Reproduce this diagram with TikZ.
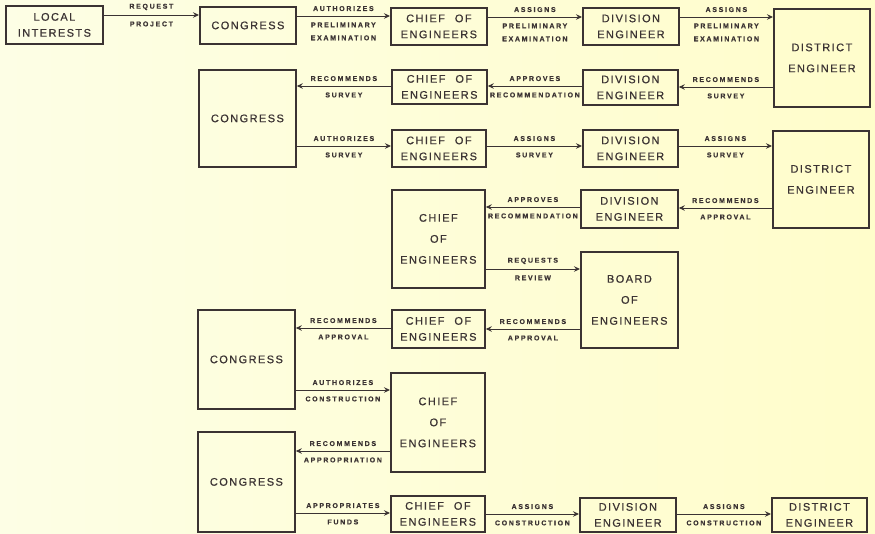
\documentclass[tikz,border=0pt]{standalone}
\usepackage{fontspec}
\usetikzlibrary{arrows.meta}
\newfontfamily\boxfont[LetterSpace=13,FakeBold=0.6]{Liberation Sans}
\newfontfamily\lblfont[LetterSpace=24,FakeBold=0.5]{Liberation Sans}
\definecolor{ink}{HTML}{3B3333}
\definecolor{bgl}{HTML}{FDFEE5}
\definecolor{bgr}{HTML}{FFFDCB}
\begin{document}
\begin{tikzpicture}[x=1pt,y=-1pt,line cap=butt,line join=miter,>={Stealth[length=6pt,width=5.5pt,inset=2pt]}]
		\tikzset{box/.style={draw=ink,line width=1.8pt,text=ink,anchor=north west,align=center,
				inner sep=0pt,font=\boxfont\fontsize{11}{16}\selectfont},
			tall/.style={box,font=\boxfont\fontsize{11}{21}\selectfont},
			lbl/.style={text=ink,inner sep=0pt,align=center,font=\lblfont\bfseries\fontsize{7}{13}\selectfont},
			link/.style={->,draw=ink,line width=0.9pt}}
		\useasboundingbox (0,0) rectangle (875,533);
		\shade[left color=bgl,right color=bgr] (0,0) rectangle (875,533);
		%--------- Hộp
		\node[box,minimum width=97,minimum height=38] (li) at (5,5) {LOCAL\\INTERESTS};
		\node[box,minimum width=96,minimum height=37] (cg1) at (199,6) {CONGRESS};
		\node[box,minimum width=96,minimum height=37] (ce1) at (390,7) {CHIEF \enspace OF\\ENGINEERS};
		\node[box,minimum width=96,minimum height=37] (de1) at (582,7) {DIVISION\\ENGINEER};
		\node[tall,minimum width=96,minimum height=98] (di1) at (773,8) {DISTRICT\\ENGINEER};
		\node[box,minimum width=97,minimum height=97] (cg2) at (198,69) {CONGRESS};
		\node[box,minimum width=95,minimum height=34] (ce2) at (391,69) {CHIEF \enspace OF\\ENGINEERS};
		\node[box,minimum width=95,minimum height=35] (de2) at (582,69) {DIVISION\\ENGINEER};
		\node[box,minimum width=94,minimum height=37] (ce3) at (391,129) {CHIEF \enspace OF\\ENGINEERS};
		\node[box,minimum width=95,minimum height=37] (de3) at (582,129) {DIVISION\\ENGINEER};
		\node[tall,minimum width=96,minimum height=97] (di2) at (772,130) {DISTRICT\\ENGINEER};
		\node[box,minimum width=97,minimum height=38] (de4) at (580,189) {DIVISION\\ENGINEER};
		\node[tall,minimum width=93,minimum height=98] (ce4) at (391,189) {CHIEF\\OF\\ENGINEERS};
		\node[tall,minimum width=97,minimum height=96] (bd) at (580,251) {BOARD\\OF\\ENGINEERS};
		\node[box,minimum width=93,minimum height=38] (ce5) at (391,309) {CHIEF \enspace OF\\ENGINEERS};
		\node[box,minimum width=97,minimum height=99] (cg3) at (197,309) {CONGRESS};
		\node[tall,minimum width=94,minimum height=99] (ce6) at (390,372) {CHIEF\\OF\\ENGINEERS};
		\node[box,minimum width=97,minimum height=100] (cg4) at (197,431) {CONGRESS};
		\node[box,minimum width=94,minimum height=36] (ce7) at (390,495) {CHIEF \enspace OF\\ENGINEERS};
		\node[box,minimum width=96,minimum height=34] (de5) at (579,497) {DIVISION\\ENGINEER};
		\node[box,minimum width=95,minimum height=34] (di3) at (771,497) {DISTRICT\\ENGINEER};
		%--------- Mũi tên sang phải
		\foreach \a/\b/\y/\up/\dn in {li/cg1/15/REQUEST/PROJECT,
			cg1/ce1/16/AUTHORIZES/{PRELIMINARY\\EXAMINATION},
			ce1/de1/17/ASSIGNS/{PRELIMINARY\\EXAMINATION},
			de1/di1/17/ASSIGNS/{PRELIMINARY\\EXAMINATION},
			cg2/ce3/146/AUTHORIZES/SURVEY, ce3/de3/146/ASSIGNS/SURVEY, de3/di2/146/ASSIGNS/SURVEY,
			ce4/bd/269/REQUESTS/REVIEW, cg3/ce6/390/AUTHORIZES/CONSTRUCTION,
			cg4/ce7/513/APPROPRIATES/FUNDS, ce7/de5/514/ASSIGNS/CONSTRUCTION,
			de5/di3/514/ASSIGNS/CONSTRUCTION}
		\draw[link] (\a.east |- 0,\y) -- node[lbl,above=4.5pt]{\up} node[lbl,below=6pt]{\dn} (\b.west |- 0,\y);
		%--------- Mũi tên sang trái
		\foreach \a/\b/\y/\up/\dn in {di1/de2/87/RECOMMENDS/SURVEY, de2/ce2/86/APPROVES/RECOMMENDATION,
			ce2/cg2/86/RECOMMENDS/SURVEY, di2/de4/208/RECOMMENDS/APPROVAL,
			de4/ce4/207/APPROVES/RECOMMENDATION, bd/ce5/329/RECOMMENDS/APPROVAL,
			ce5/cg3/328/RECOMMENDS/APPROVAL, ce6/cg4/451/RECOMMENDS/APPROPRIATION}
		\draw[link] (\a.west |- 0,\y) -- node[lbl,above=4.5pt]{\up} node[lbl,below=6pt]{\dn} (\b.east |- 0,\y);
	\end{tikzpicture}
\end{document}
